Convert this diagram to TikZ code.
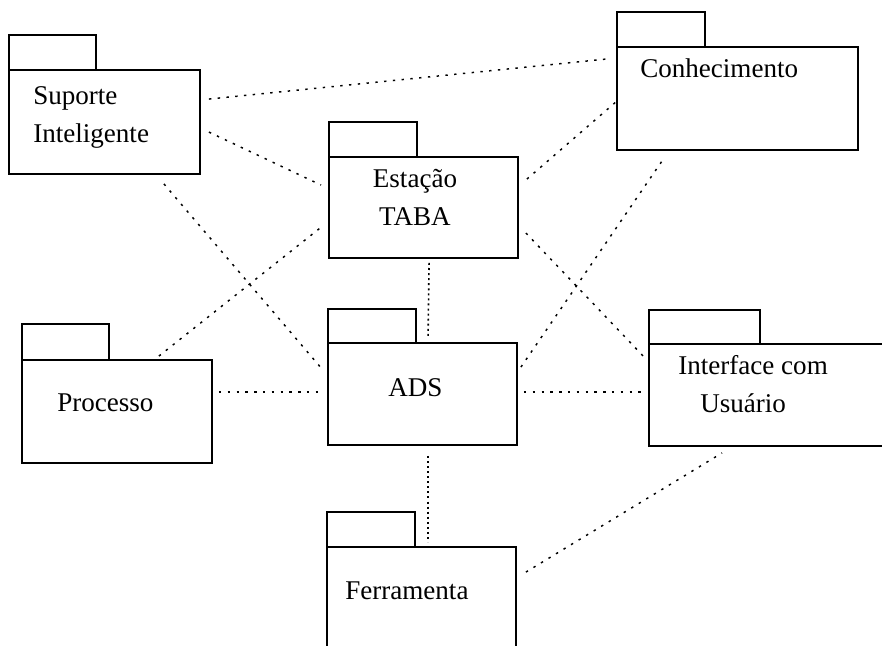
\documentclass[tikz,border=0pt]{standalone}
\usepackage{fontspec}
\setmainfont{Liberation Serif}
\usetikzlibrary{fit,calc}
\begin{document}
\begin{tikzpicture}[x=0.75pt,y=-0.75pt,
  pkgbody/.style={draw, line width=1.4pt, inner sep=0pt},
  pkgtab/.style={draw, line width=1.5pt, inner sep=0pt},
  pkgname/.style={inner sep=0pt, font=\fontsize{20.3}{28.5}\selectfont},
  link/.style={line width=1.1pt, dash pattern=on 1.8pt off 4.8pt},
  vlink/.style={line width=1.2pt, dash pattern=on 1.5pt off 2.3pt}]

\useasboundingbox (0,0) rectangle (882,646);
\fill[white] (0,0) rectangle (882,646);
\clip (0,0) rectangle (882,646);

% packages: tab + body
\node[pkgtab,  fit={(9,35) (96,70)}]     (sup-tab) {};
\node[pkgbody, fit={(9,70) (200,174)}]   (sup) {};
\node[pkgtab,  fit={(617,12) (705,47)}]  (con-tab) {};
\node[pkgbody, fit={(617,47) (858,150)}] (con) {};
\node[pkgtab,  fit={(329,122) (417,157)}] (est-tab) {};
\node[pkgbody, fit={(329,157) (518,258)}] (est) {};
\node[pkgtab,  fit={(22,324) (109,360)}]  (pro-tab) {};
\node[pkgbody, fit={(22,360) (212,463)}]  (pro) {};
\node[pkgtab,  fit={(328,309) (416,343)}] (ads-tab) {};
\node[pkgbody, fit={(328,343) (517,445)}] (ads) {};
\node[pkgtab,  fit={(649,310) (760,344)}] (int-tab) {};
\node[pkgbody, fit={(649,344) (900,446)}] (int) {};
\node[pkgtab,  fit={(327,512) (415,547)}] (fer-tab) {};
\node[pkgbody, fit={(327,547) (516,660)}] (fer) {};

% package names
\node[pkgname, align=left, anchor=west] (sup-txt) at (33,117) {Suporte\\Inteligente};
\node[pkgname, anchor=base west] (con-txt) at (640,77) {Conhecimento};
\node[pkgname, align=center] (est-txt) at (415,197) {Estação\\TABA};
\node[pkgname, anchor=base west] (pro-txt) at (57,411) {Processo};
\node[pkgname, anchor=base west] (ads-txt) at (388,396) {ADS};
\node[pkgname, align=left, anchor=west] (int-txt) at (678,384) {Interface com\\\hspace*{16.5pt}Usuário};
\node[pkgname, anchor=base west] (fer-txt) at (345,599) {Ferramenta};

% dependencies
\draw[link] ($(sup.north east)+(8,30)$) -- ($(con.north west)+(-10,13)$);
\draw[link] ($(sup.north east)+(8,63)$) -- ($(est.north west)+(-7,29)$);
\draw[link] ($(sup.south east)+(-37,9)$) -- ($(ads.north west)+(-5,27)$);
\draw[link] ($(pro.north east)+(-54,-3)$) -- ($(est.north west)+(-8,72)$);
\draw[link] ($(pro.north east)+(6,33)$) -- ($(ads.north west)+(-6,50)$);
\draw[vlink] ($(est.south west)+(101,4)$) -- ($(ads.north west)+(101,-6)$);
\draw[link] ($(est.north east)+(8,23)$) -- ($(con.north west)+(2,54)$);
\draw[link] ($(est.north east)+(7,77)$) -- ($(int.north west)+(-2,16)$);
\draw[link] ($(ads.north east)+(3,25)$) -- ($(con.south west)+(46,10)$);
\draw[link] ($(ads.north east)+(6,50)$) -- ($(int.north west)+(-4,49)$);
\draw[vlink] ($(ads.south west)+(101,10)$) -- ($(fer.north west)+(102,-4)$);
\draw[link] ($(fer.north east)+(9,26)$) -- ($(int.south west)+(74,6)$);
\end{tikzpicture}
\end{document}
